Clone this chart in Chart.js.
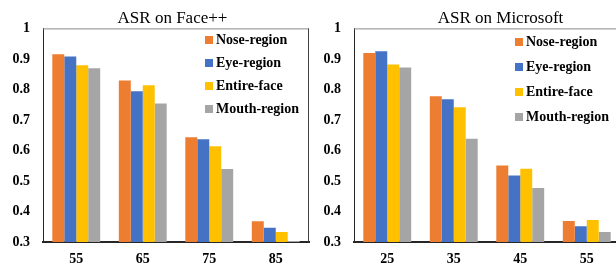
<!DOCTYPE html>
<html>
<head>
<meta charset="utf-8">
<script src="https://cdn.jsdelivr.net/npm/chart.js@4"></script>
<style>
  html, body { margin: 0; padding: 0; background: #fff; width: 616px; height: 267px; overflow: hidden; position: relative; }
  canvas { position: absolute; top: 0; }
  #faceChart { left: 0; }
  #msChart { left: 310px; }
</style>
</head>
<body>
<canvas id="faceChart" width="345" height="267"></canvas>
<canvas id="msChart" width="381" height="267"></canvas>
<script>
(() => {
    'use strict'

    const seriesNames = ['Nose-region', 'Eye-region', 'Entire-face', 'Mouth-region']
    const seriesColors = ['#ED7D31', '#4472C4', '#FFC000', '#A5A5A5']

    // ASR on Face++
    const faceLabels = ['55', '65', '75', '85']
    const faceNose = [0.915, 0.829, 0.643, 0.368]
    const faceEye = [0.908, 0.794, 0.637, 0.347]
    const faceEntire = [0.879, 0.814, 0.614, 0.333]
    const faceMouth = [0.869, 0.754, 0.539, 0.303]

    // ASR on Microsoft
    const msLabels = ['25', '35', '45', '55']
    const msNose = [0.919, 0.778, 0.551, 0.369]
    const msEye = [0.925, 0.768, 0.518, 0.352]
    const msEntire = [0.882, 0.742, 0.540, 0.372]
    const msMouth = [0.872, 0.638, 0.477, 0.333]

    const yTicks = [0.3, 0.4, 0.5, 0.6, 0.7, 0.8, 0.9, 1]

    const serif = "'Liberation Serif', 'Times New Roman', serif"

    // frame lines on top and right of the plot, plus legend inside the plot
    const framePlugin = {
        id: 'frame',
        afterDraw(chart, args, opts) {
            const { ctx, chartArea: a } = chart
            ctx.save()
            ctx.lineWidth = 1
            ctx.strokeStyle = '#8a8a8a'
            ctx.beginPath()
            ctx.moveTo(a.left, a.top + 0.5)
            ctx.lineTo(a.right, a.top + 0.5)
            ctx.stroke()
            ctx.strokeStyle = '#404040'
            ctx.beginPath()
            ctx.moveTo(a.right - 0.5, a.top)
            ctx.lineTo(a.right - 0.5, a.bottom)
            ctx.stroke()

            // legend
            ctx.font = 'bold 14px ' + serif
            ctx.textBaseline = 'middle'
            ctx.textAlign = 'left'
            chart.data.datasets.forEach((ds, i) => {
                const y = a.top + opts.firstY + i * opts.gap
                const x = a.right - opts.fromRight
                ctx.fillStyle = ds.backgroundColor
                ctx.fillRect(x, Math.round(y - 4), 8, 8)
                ctx.fillStyle = '#000'
                ctx.fillText(ds.label, x + 11, y)
            })
            ctx.restore()
        }
    }

    function makeChart(id, title, labels, values, padRight, axisWidth, legendOpts) {
        return new Chart(document.getElementById(id), {
            type: 'bar',
            data: {
                labels: labels,
                datasets: seriesNames.map((name, i) => ({
                    label: name,
                    data: values[i],
                    backgroundColor: seriesColors[i],
                    borderWidth: 0,
                    barPercentage: 1,
                    categoryPercentage: 0.72
                }))
            },
            options: {
                responsive: false,
                animation: false,
                devicePixelRatio: 1,
                layout: { padding: 0 },
                plugins: {
                    legend: { display: false },
                    tooltip: { enabled: false },
                    title: {
                        display: true,
                        text: title,
                        color: '#000',
                        font: { family: serif, size: 17, weight: 'normal', lineHeight: 1.2 },
                        padding: { top: 8, bottom: 0 }
                    },
                    frame: legendOpts
                },
                scales: {
                    x: {
                        afterFit(scale) { scale.height = 25 },
                        grid: { display: false, drawTicks: false },
                        border: { display: true, color: '#262626', width: 2 },
                        ticks: {
                            color: '#000',
                            padding: 9,
                            font: { family: serif, size: 14, weight: 'bold' }
                        }
                    },
                    y: {
                        min: 0.3,
                        max: 1,
                        afterFit(scale) { scale.width = axisWidth },
                        afterBuildTicks(scale) { scale.ticks = yTicks.map(v => ({ value: v })) },
                        grid: { display: false, drawTicks: false },
                        border: { display: true, color: '#262626', width: 1 },
                        ticks: {
                            color: '#000',
                            padding: 13,
                            font: { family: serif, size: 14, weight: 'bold' },
                            callback: v => (v === 1 ? '1' : v.toFixed(1))
                        }
                    },
                    // empty spacer on the right so the title centres on the whole canvas
                    spacer: {
                        type: 'linear',
                        position: 'right',
                        afterFit(scale) { scale.width = padRight },
                        grid: { display: false, drawTicks: false },
                        border: { display: false },
                        ticks: { display: false }
                    }
                }
            },
            plugins: [framePlugin]
        })
    }

    makeChart('faceChart', 'ASR on Face++', faceLabels,
        [faceNose, faceEye, faceEntire, faceMouth], 36, 43,
        { firstY: 12, gap: 23, fromRight: 104 })

    makeChart('msChart', 'ASR on Microsoft', msLabels,
        [msNose, msEye, msEntire, msMouth], 71, 44,
        { firstY: 14, gap: 25, fromRight: 105 })
})()
</script>
</body>
</html>
